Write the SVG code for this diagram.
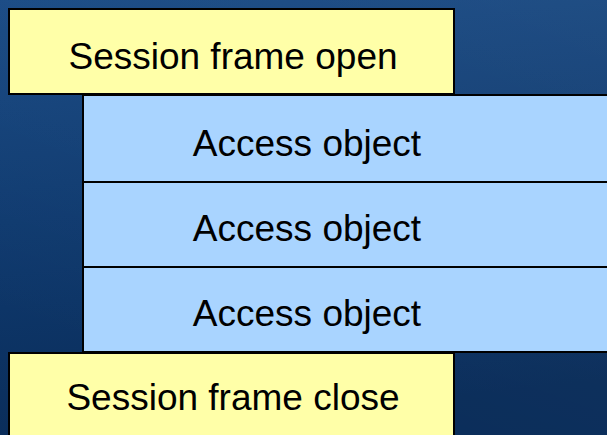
<svg xmlns="http://www.w3.org/2000/svg" width="607" height="435" viewBox="0 0 607 435">
  <defs>
    <linearGradient id="bg" x1="0" y1="0" x2="0.15" y2="1">
      <stop offset="0" stop-color="#164883"/>
      <stop offset="0.5" stop-color="#0f3a6f"/>
      <stop offset="1" stop-color="#0a2d5a"/>
    </linearGradient>
    <linearGradient id="sheen" x1="0.5" y1="1" x2="1" y2="0">
      <stop offset="0" stop-color="#ffffff" stop-opacity="0"/>
      <stop offset="1" stop-color="#ffffff" stop-opacity="0.05"/>
    </linearGradient>
    <style>
      .frame { fill: #ffffa8; stroke: #000; stroke-width: 2; }
      .access { fill: #a9d4ff; stroke: #000; stroke-width: 2; }
      .label { font-family: "Liberation Sans", Arial, sans-serif; font-size: 37px; fill: #000; text-anchor: middle; }
    </style>
  </defs>

  <!-- backdrop -->
  <rect x="0" y="0" width="607" height="435" fill="url(#bg)"/>
  <rect x="0" y="0" width="607" height="435" fill="url(#sheen)"/>

  <g id="access-1">
    <rect class="access" x="83" y="95" width="540" height="87"/>
    <text class="label" x="307" y="156">Access object</text>
  </g>
  <g id="access-2">
    <rect class="access" x="83" y="182" width="540" height="85"/>
    <text class="label" x="307" y="241">Access object</text>
  </g>
  <g id="access-3">
    <rect class="access" x="83" y="267" width="540" height="85"/>
    <text class="label" x="307" y="326">Access object</text>
  </g>

  <g id="session-open">
    <rect class="frame" x="9" y="9" width="445" height="85"/>
    <text class="label" x="233" y="69">Session frame open</text>
  </g>
  <g id="session-close">
    <rect class="frame" x="9" y="353" width="445" height="95"/>
    <text class="label" x="233" y="410">Session frame close</text>
  </g>

  <g id="connectors"/>
</svg>
